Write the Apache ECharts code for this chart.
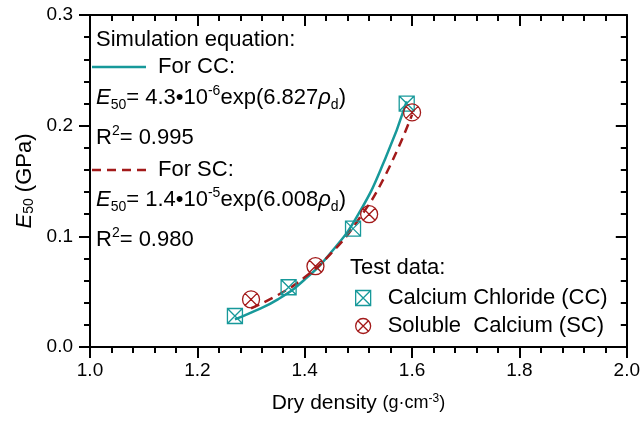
<!DOCTYPE html>
<html>
<head>
<meta charset="utf-8">
<script src="https://cdn.jsdelivr.net/npm/echarts@6/dist/echarts.min.js"></script>
<style>
html, body { margin: 0; padding: 0; background: #fff; }
#chart { width: 643px; height: 421px; }
</style>
</head>
<body>
<div id="chart"></div>
<script>
// test data
const ccDensity = [1.27, 1.37, 1.49, 1.59];
const ccE50 = [0.028, 0.054, 0.107, 0.220];
const scDensity = [1.30, 1.42, 1.52, 1.60];
const scE50 = [0.043, 0.073, 0.120, 0.212];

// fitted curves, points
const ccFitX = [1.27, 1.30, 1.35, 1.40, 1.45, 1.50, 1.55, 1.59];
const ccFitY = [0.025, 0.031, 0.043, 0.061, 0.086, 0.120, 0.170, 0.222];
const scFitX = [1.30, 1.35, 1.40, 1.45, 1.50, 1.55, 1.60];
const scFitY = [0.035, 0.047, 0.063, 0.085, 0.115, 0.155, 0.210];

const teal = '#17999a';
const red = '#a31a1a';
const FONT = 'Liberation Sans, Arial, sans-serif';
const FS = 22;

const squareX = 'path://M0,0 L10,0 L10,10 L0,10 Z M0,0 L10,10 M10,0 L0,10';
const circleX = 'path://M10,5 A5,5 0 1 1 0,5 A5,5 0 1 1 10,5 Z M1.46,1.46 L8.54,8.54 M8.54,1.46 L1.46,8.54';

function pairs(xs, ys) {
    return xs.map((x, i) => [x, ys[i]]);
}

const txtRich = {
    n: { fontSize: FS, fontFamily: FONT, color: '#000' },
    i: { fontSize: FS, fontFamily: FONT, fontStyle: 'italic', color: '#000' },
    sub: { fontSize: 14, fontFamily: FONT, color: '#000', verticalAlign: 'bottom' },
    sup: { fontSize: 14, fontFamily: FONT, color: '#000', verticalAlign: 'top' }
};

function label(x, y, text) {
    return {
        type: 'text',
        x: x,
        y: y,
        style: {
            text: text,
            rich: txtRich,
            fontSize: FS,
            fontFamily: FONT,
            fill: '#000',
            verticalAlign: 'middle',
            lineHeight: 28
        },
        z: 10
    };
}

const xBase = {
    type: 'value',
    min: 1.0,
    max: 2.0,
    interval: 0.2,
    splitLine: { show: false },
    axisLine: { onZero: false, lineStyle: { color: '#000', width: 2 } }
};
const yBase = {
    type: 'value',
    min: 0,
    max: 0.3,
    interval: 0.1,
    splitLine: { show: false },
    axisLine: { onZero: false, lineStyle: { color: '#000', width: 2 } }
};

const chart = echarts.init(document.getElementById('chart'));

chart.setOption({
    animation: false,
    backgroundColor: '#fff',
    grid: { left: 90, right: 15, top: 15, bottom: 74, containLabel: false },
    xAxis: [
        Object.assign({}, xBase, {
            position: 'bottom',
            name: '{a|Dry density }{b|(g·cm}{c|-3}{b|)}',
            nameLocation: 'middle',
            nameGap: 46,
            nameTextStyle: {
                rich: {
                    a: { fontSize: 21, fontFamily: FONT, color: '#000' },
                    b: { fontSize: 18, fontFamily: FONT, color: '#000' },
                    c: { fontSize: 12, fontFamily: FONT, color: '#000', verticalAlign: 'top' }
                }
            },
            axisTick: { inside: false, length: 11, lineStyle: { color: '#000', width: 2 } },
            minorTick: { show: true, splitNumber: 5, length: 6, lineStyle: { color: '#000', width: 2 } },
            axisLabel: { color: '#000', fontSize: 19, fontFamily: FONT, margin: 14, formatter: v => v.toFixed(1) }
        }),
        Object.assign({}, xBase, {
            position: 'top',
            axisTick: { inside: true, length: 11, lineStyle: { color: '#000', width: 2 } },
            minorTick: { show: true, splitNumber: 5, length: 6, lineStyle: { color: '#000', width: 2 } },
            axisLabel: { show: false }
        })
    ],
    yAxis: [
        Object.assign({}, yBase, {
            position: 'left',
            name: '{i|E}{s|50}{n| (GPa)}',
            nameLocation: 'middle',
            nameGap: 54,
            nameTextStyle: {
                rich: {
                    i: { fontSize: 22, fontFamily: FONT, fontStyle: 'italic', color: '#000' },
                    s: { fontSize: 14, fontFamily: FONT, color: '#000', verticalAlign: 'bottom' },
                    n: { fontSize: 22, fontFamily: FONT, color: '#000' }
                }
            },
            axisTick: { inside: false, length: 11, lineStyle: { color: '#000', width: 2 } },
            minorTick: { show: true, splitNumber: 5, length: 6, lineStyle: { color: '#000', width: 2 } },
            axisLabel: { color: '#000', fontSize: 19, fontFamily: FONT, margin: 17, formatter: v => v.toFixed(1) }
        }),
        Object.assign({}, yBase, {
            position: 'right',
            axisTick: { inside: true, length: 11, lineStyle: { color: '#000', width: 2 } },
            minorTick: { show: true, splitNumber: 5, length: 6, lineStyle: { color: '#000', width: 2 } },
            axisLabel: { show: false }
        })
    ],
    legend: {
        orient: 'vertical',
        left: 350,
        top: 282,
        itemWidth: 15,
        itemHeight: 15,
        itemGap: 6,
        textStyle: { fontSize: FS, fontFamily: FONT, color: '#000', padding: [0, 0, 0, 12] },
        data: [
            { name: 'Calcium Chloride (CC)', icon: squareX,
              itemStyle: { color: 'rgba(0,0,0,0)', borderColor: teal, borderWidth: 1.3 } },
            { name: 'Soluble  Calcium (SC)', icon: circleX,
              itemStyle: { color: 'rgba(0,0,0,0)', borderColor: red, borderWidth: 1.3 } }
        ]
    },
    graphic: [
        label(96, 40, 'Simulation equation:'),
        { type: 'line', shape: { x1: 92, y1: 67, x2: 146, y2: 67 },
          style: { stroke: teal, lineWidth: 2.5 }, z: 10 },
        label(158, 67, 'For CC:'),
        label(96, 98, '{i|E}{sub|50}{n|= 4.3•10}{sup|-6}{n|exp(6.827}{i|ρ}{sub|d}{n|)}'),
        label(96, 138, '{n|R}{sup|2}{n|= 0.995}'),
        { type: 'line', shape: { x1: 92, y1: 170, x2: 146, y2: 170 },
          style: { stroke: red, lineWidth: 2.5, lineDash: [9, 6] }, z: 10 },
        label(158, 170, 'For SC:'),
        label(96, 200, '{i|E}{sub|50}{n|= 1.4•10}{sup|-5}{n|exp(6.008}{i|ρ}{sub|d}{n|)}'),
        label(96, 240, '{n|R}{sup|2}{n|= 0.980}'),
        label(350, 268, 'Test data:')
    ],
    series: [
        {
            name: 'CC fit',
            type: 'line',
            smooth: true,
            showSymbol: false,
            data: pairs(ccFitX, ccFitY),
            lineStyle: { color: teal, width: 2.5 },
            z: 2
        },
        {
            name: 'SC fit',
            type: 'line',
            smooth: true,
            showSymbol: false,
            data: pairs(scFitX, scFitY),
            lineStyle: { color: red, width: 2.5, type: [9, 6] },
            z: 2
        },
        {
            name: 'Calcium Chloride (CC)',
            type: 'scatter',
            symbol: squareX,
            symbolSize: 15,
            data: pairs(ccDensity, ccE50),
            itemStyle: { color: 'rgba(0,0,0,0)', borderColor: teal, borderWidth: 1.3, opacity: 1 },
            z: 3
        },
        {
            name: 'Soluble  Calcium (SC)',
            type: 'scatter',
            symbol: circleX,
            symbolSize: 17,
            data: pairs(scDensity, scE50),
            itemStyle: { color: 'rgba(0,0,0,0)', borderColor: red, borderWidth: 1.3, opacity: 1 },
            z: 3
        }
    ]
});
</script>
</body>
</html>
